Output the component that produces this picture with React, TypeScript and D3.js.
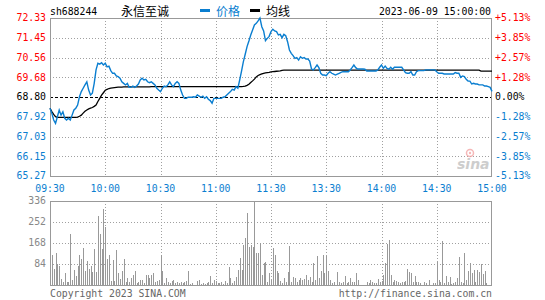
import React from 'react';
import * as d3 from 'd3';

const stockCode = 'sh688244';
const stockName = '永信至诚';
const legendPrice = '价格';
const legendAvg = '均线';
const dateText = '2023-06-09 15:00:00';
const prevClose = 68.8;
const priceTicks = [72.33, 71.45, 70.56, 69.68, 68.8, 67.92, 67.03, 66.15, 65.27];
const priceTickLabels = ['72.33', '71.45', '70.56', '69.68', '68.80', '67.92', '67.03', '66.15', '65.27'];
const pctTickLabels = ['+5.13%', '+3.85%', '+2.57%', '+1.28%', '0.00%', '-1.28%', '-2.57%', '-3.85%', '-5.13%'];
const timeLabels = ['09:30', '10:00', '10:30', '11:00', '11:30', '13:30', '14:00', '14:30', '15:00'];
const timeIndex = [0, 30, 60, 90, 120, 150, 180, 210, 240];
const volTicks = [336, 252, 168, 84];

const prices = [
  68.30, 68.07, 67.77, 67.62, 67.92, 68.22, 67.99, 68.14, 67.85, 67.77,
  67.85, 67.77, 67.99, 68.22, 68.30, 68.44, 68.81, 69.04, 69.19, 69.34,
  69.48, 69.11, 68.89, 68.97, 69.41, 70.01, 70.31, 70.27, 70.33, 70.23,
  70.31, 70.15, 70.18, 69.98, 69.86, 69.86, 69.74, 69.71, 69.64, 69.48,
  69.41, 69.34, 69.41, 69.23, 69.23, 69.29, 69.23, 69.29, 69.38, 69.56,
  69.64, 69.56, 69.59, 69.48, 69.44, 69.48, 69.41, 69.34, 69.19, 69.11,
  69.04, 69.19, 69.29, 69.26, 69.34, 69.48, 69.34, 69.26, 69.41, 69.48,
  69.41, 69.11, 68.89, 68.74, 68.74, 68.79, 68.79, 68.79, 68.81, 68.79,
  68.89, 68.84, 68.79, 68.84, 68.74, 68.81, 68.70, 68.64, 68.52, 68.74,
  68.74, 68.74, 68.74, 68.74, 68.79, 68.81, 68.89, 68.97, 69.04, 69.14,
  69.11, 69.26, 69.19, 69.56, 69.96, 70.38, 70.71, 71.05, 71.30, 71.57,
  71.79, 72.02, 72.09, 72.20, 72.33, 71.94, 71.75, 71.32, 71.42, 71.51,
  71.72, 71.83, 71.75, 71.72, 71.57, 71.60, 71.45, 71.60, 71.54, 71.27,
  70.90, 70.75, 70.65, 70.53, 70.56, 70.45, 70.60, 70.53, 70.56, 70.50,
  70.50, 70.41, 70.05, 70.01, 70.11, 70.23, 70.11, 69.86, 69.78, 69.78,
  69.75, 69.86, 69.93, 69.86, 69.82, 69.78, 69.82, 69.86, 69.90, 69.93,
  69.93, 69.93, 69.93, 70.01, 70.11, 70.23, 70.11, 70.05, 70.05, 70.05,
  70.05, 70.04, 69.96, 69.96, 69.96, 69.96, 69.96, 69.96, 70.01, 70.13,
  70.23, 70.08, 70.18, 70.08, 70.04, 70.13, 70.04, 70.13, 70.13, 70.13,
  70.13, 70.13, 70.01, 69.89, 69.86, 69.86, 69.93, 69.78, 69.78, 69.93,
  69.98, 69.98, 69.98, 69.98, 70.01, 70.01, 70.01, 70.01, 70.01, 70.01,
  69.93, 69.86, 69.86, 69.86, 69.83, 69.83, 69.83, 69.83, 69.83, 69.83,
  69.89, 69.86, 69.86, 69.68, 69.74, 69.71, 69.59, 69.51, 69.51, 69.38,
  69.41, 69.38, 69.38, 69.34, 69.34, 69.34, 69.29, 69.29, 69.26, 69.23,
  69.05,
];

const avgPrices = [
  68.30, 68.15, 68.02, 67.92, 67.89, 67.89, 67.89, 67.89, 67.89, 67.89,
  67.89, 67.89, 67.89, 67.89, 67.89, 67.90, 67.94, 67.99, 68.08, 68.16,
  68.22, 68.27, 68.30, 68.33, 68.38, 68.44, 68.60, 68.74, 68.88, 68.99,
  69.10, 69.14, 69.18, 69.20, 69.21, 69.22, 69.23, 69.24, 69.24, 69.24,
  69.25, 69.25, 69.25, 69.25, 69.25, 69.25, 69.25, 69.25, 69.25, 69.25,
  69.25, 69.25, 69.25, 69.25, 69.25, 69.26, 69.26, 69.26, 69.26, 69.26,
  69.26, 69.26, 69.26, 69.26, 69.26, 69.26, 69.26, 69.26, 69.26, 69.26,
  69.26, 69.26, 69.26, 69.26, 69.26, 69.26, 69.26, 69.26, 69.26, 69.26,
  69.26, 69.26, 69.26, 69.26, 69.26, 69.26, 69.26, 69.26, 69.26, 69.26,
  69.26, 69.26, 69.26, 69.26, 69.26, 69.26, 69.26, 69.26, 69.26, 69.26,
  69.26, 69.26, 69.26, 69.26, 69.26, 69.27, 69.29, 69.32, 69.37, 69.45,
  69.52, 69.60, 69.70, 69.76, 69.80, 69.83, 69.86, 69.88, 69.89, 69.90,
  69.92, 69.93, 69.94, 69.95, 69.96, 69.97, 69.99, 70.00, 70.00, 70.00,
  70.00, 70.00, 70.00, 70.00, 70.00, 70.00, 70.00, 70.00, 70.00, 70.00,
  70.00, 70.00, 70.00, 70.00, 70.00, 70.00, 70.00, 70.00, 70.00, 70.00,
  70.00, 70.00, 70.00, 70.00, 70.00, 70.00, 70.00, 70.00, 70.00, 70.00,
  70.00, 70.00, 70.00, 70.00, 70.00, 70.00, 70.00, 70.00, 70.00, 70.00,
  70.00, 70.00, 70.00, 70.00, 70.00, 70.00, 70.00, 70.00, 70.00, 70.00,
  70.00, 70.00, 70.00, 70.00, 70.00, 70.00, 70.00, 70.00, 70.00, 70.00,
  70.00, 70.00, 70.00, 70.00, 70.00, 70.00, 70.00, 70.00, 70.00, 70.00,
  70.00, 70.00, 70.00, 70.00, 70.00, 70.00, 70.00, 70.00, 70.00, 70.00,
  70.00, 70.00, 70.00, 70.00, 70.00, 70.00, 70.00, 70.00, 70.00, 70.00,
  70.00, 70.00, 70.00, 70.00, 70.00, 70.00, 70.00, 70.00, 70.00, 70.00,
  70.00, 70.00, 70.00, 70.00, 69.96, 69.96, 69.96, 69.96, 69.96, 69.96,
  69.96,
];

const volumes = [
  117, 120, 64, 127, 83, 77, 24, 11, 47, 11,
  13, 204, 20, 60, 37, 76, 120, 104, 149, 56,
  96, 64, 77, 53, 144, 51, 276, 204, 144, 304,
  233, 104, 120, 16, 100, 16, 140, 47, 24, 56,
  104, 11, 27, 11, 29, 40, 56, 7, 11, 20,
  20, 7, 40, 40, 27, 40, 47, 11, 16, 20,
  120, 56, 7, 27, 11, 7, 16, 20, 7, 11,
  7, 11, 7, 11, 16, 56, 3, 7, 0, 0,
  16, 20, 3, 7, 3, 7, 11, 37, 7, 20,
  16, 7, 7, 11, 3, 16, 7, 73, 29, 7,
  16, 33, 60, 107, 60, 160, 189, 287, 153, 160,
  153, 336, 127, 127, 167, 40, 87, 93, 11, 47,
  20, 147, 120, 56, 47, 16, 7, 29, 11, 53,
  157, 11, 33, 27, 11, 20, 29, 20, 24, 40,
  20, 33, 11, 87, 20, 117, 27, 56, 120, 47,
  117, 56, 20, 7, 11, 0, 51, 11, 7, 13,
  37, 7, 11, 29, 11, 11, 47, 20, 0, 0,
  0, 0, 11, 7, 20, 11, 7, 7, 24, 11,
  16, 40, 87, 163, 180, 40, 11, 20, 16, 11,
  7, 11, 11, 16, 64, 53, 47, 11, 37, 11,
  11, 7, 0, 11, 7, 0, 20, 0, 7, 7,
  93, 20, 11, 176, 7, 37, 11, 33, 3, 7,
  11, 29, 113, 11, 7, 127, 20, 56, 87, 47,
  60, 11, 60, 51, 83, 43, 56, 7, 0, 0,
  0,
];

const W = 545;
const H = 300;
const L = 50;
const R = 492;
const PT = 18;
const PB = 176;
const VT = 201;
const VB = 285;

const RED = '#ff0000';
const BLUE = '#0a7ed0';
const GRID = '#a0a0a0';
const FRAME = '#999999';
const MONO = '"DejaVu Sans Mono", "Liberation Mono", monospace';
const CJK = '"Noto Sans CJK SC", sans-serif';

export default function App() {
  const x = d3.scaleLinear().domain([0, 240]).range([L, R]);
  const y = d3.scaleLinear().domain([65.27, 72.33]).range([PB, PT]);
  const vy = d3.scaleLinear().domain([0, 336]).range([VB, VT]);

  const line = d3
    .line<number>()
    .x((_, i) => x(i))
    .y((d) => y(d));

  const snap = (v: number) => Math.round(v) + 0.5;
  const labelColor = (i: number) => (i < 4 ? RED : i === 4 ? '#000' : BLUE);

  return (
    <svg
      width={W}
      height={H}
      style={{ position: 'absolute', left: 0, top: 0, background: '#fff' }}
    >
      <rect x={0} y={0} width={W} height={H} fill="#fff" />

      {/* header */}
      <text x={L} y={15} fontFamily={MONO} fontSize={9.8} fill="#000">
        {stockCode}
      </text>
      <text x={121} y={16} fontFamily={CJK} fontSize={12} fill="#000">
        {stockName}
      </text>
      <rect x={200} y={9} width={10} height={3} fill={BLUE} />
      <text x={216} y={16} fontFamily={CJK} fontSize={12} fill={BLUE}>
        {legendPrice}
      </text>
      <rect x={250} y={9} width={10} height={3} fill="#000" />
      <text x={266} y={16} fontFamily={CJK} fontSize={12} fill="#000">
        {legendAvg}
      </text>
      <text x={491} y={15} textAnchor="end" fontFamily={MONO} fontSize={9.8} fill="#000">
        {dateText}
      </text>

      {/* price grid */}
      {priceTicks.map((t, i) =>
        i === 0 || i === 8 || i === 4 ? null : (
          <line
            key={'hg' + i}
            x1={L}
            x2={R}
            y1={snap(y(t))}
            y2={snap(y(t))}
            stroke={GRID}
            strokeDasharray="1,2"
            shapeRendering="crispEdges"
          />
        )
      )}
      {timeIndex.slice(1, 8).map((t, i) => (
        <line
          key={'vg' + i}
          x1={snap(x(t))}
          x2={snap(x(t))}
          y1={PT}
          y2={PB}
          stroke={GRID}
          strokeDasharray="1,2"
          shapeRendering="crispEdges"
        />
      ))}
      <line
        x1={L}
        x2={R}
        y1={snap(y(prevClose))}
        y2={snap(y(prevClose))}
        stroke="#000"
        strokeDasharray="3,2"
        shapeRendering="crispEdges"
      />

      {/* price frame */}
      <rect
        x={L + 0.5}
        y={PT + 0.5}
        width={R - L - 1}
        height={PB - PT}
        fill="none"
        stroke={FRAME}
        shapeRendering="crispEdges"
      />

      {/* watermark */}
      <g opacity={0.75}>
        <circle cx={470} cy={153} r={3.5} fill="none" stroke="#f2a0a0" strokeWidth={1.5} />
        <circle cx={470} cy={153} r={1.2} fill="#f2a0a0" />
        <text
          x={457}
          y={169}
          fontFamily='"DejaVu Sans", sans-serif'
          fontStyle="italic"
          fontWeight="bold"
          fontSize={14}
          fill="#bdbdbd"
        >
          sina
        </text>
      </g>

      {/* lines */}
      <path d={line(avgPrices) || ''} fill="none" stroke="#000" strokeWidth={1.3} />
      <path d={line(prices) || ''} fill="none" stroke={BLUE} strokeWidth={1.4} />

      {/* left & right labels */}
      {priceTicks.map((t, i) => (
        <text
          key={'pl' + i}
          x={46}
          y={y(t)}
          dy="0.35em"
          textAnchor="end"
          fontFamily={MONO}
          fontSize={9.8}
          fill={labelColor(i)}
        >
          {priceTickLabels[i]}
        </text>
      ))}
      {priceTicks.map((t, i) => (
        <text
          key={'pr' + i}
          x={495}
          y={y(t)}
          dy="0.35em"
          textAnchor="start"
          fontFamily={MONO}
          fontSize={9.8}
          fill={labelColor(i)}
        >
          {pctTickLabels[i]}
        </text>
      ))}

      {/* time labels */}
      {timeIndex.map((t, i) => (
        <text
          key={'tl' + i}
          x={x(t)}
          y={192}
          textAnchor="middle"
          fontFamily={MONO}
          fontSize={9.8}
          fill={BLUE}
        >
          {timeLabels[i]}
        </text>
      ))}

      {/* volume grid */}
      {volTicks.slice(1).map((t, i) => (
        <line
          key={'vhg' + i}
          x1={L}
          x2={R}
          y1={snap(vy(t))}
          y2={snap(vy(t))}
          stroke={GRID}
          strokeDasharray="1,2"
          shapeRendering="crispEdges"
        />
      ))}
      {timeIndex.slice(1, 8).map((t, i) => (
        <line
          key={'vvg' + i}
          x1={snap(x(t))}
          x2={snap(x(t))}
          y1={VT}
          y2={VB}
          stroke={GRID}
          strokeDasharray="1,2"
          shapeRendering="crispEdges"
        />
      ))}

      {/* volume bars */}
      {volumes.map((v, i) =>
        v > 0 ? (
          <rect
            key={'vb' + i}
            x={Math.round(x(i))}
            y={vy(v)}
            width={1}
            height={VB - vy(v)}
            fill="#999"
            shapeRendering="crispEdges"
          />
        ) : null
      )}

      <rect
        x={L + 0.5}
        y={VT + 0.5}
        width={R - L - 1}
        height={VB - VT}
        fill="none"
        stroke={FRAME}
        shapeRendering="crispEdges"
      />

      {volTicks.map((t, i) => (
        <text
          key={'vl' + i}
          x={46}
          y={vy(t)}
          dy="0.35em"
          textAnchor="end"
          fontFamily={MONO}
          fontSize={9.8}
          fill="#888"
        >
          {t}
        </text>
      ))}

      {/* footer */}
      <text x={L} y={297} fontFamily={MONO} fontSize={9.8} fill="#666">
        Copyright 2023 SINA.COM
      </text>
      <text x={R} y={297} textAnchor="end" fontFamily={MONO} fontSize={9.8} fill="#666">
        http://finance.sina.com.cn
      </text>
    </svg>
  );
}
